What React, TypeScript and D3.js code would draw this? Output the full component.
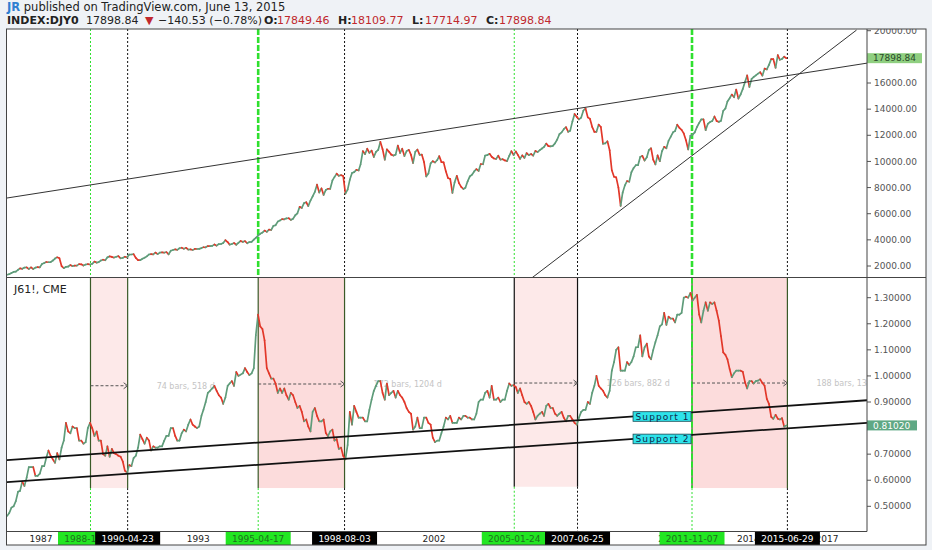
import React from 'react';
import * as d3 from 'd3';

// ---------------- data ----------------
// monthly closes starting Sep 1985
const seriesStartYear = 1985;
const seriesStartMonth = 8;

const dowCloses = [
  1328, 1374, 1472, 1547,
  1571, 1709, 1819, 1784, 1877, 1893, 1775, 1898, 1768, 1878, 1914, 1896,
  2158, 2224, 2305, 2286, 2292, 2419, 2572, 2663, 2596, 1994, 1834, 1939,
  1958, 2072, 1988, 2032, 2031, 2142, 2129, 2032, 2113, 2149, 2115, 2169,
  2342, 2259, 2294, 2419, 2480, 2440, 2661, 2737, 2693, 2645, 2706, 2753,
  2591, 2627, 2707, 2657, 2877, 2881, 2905, 2614, 2453, 2442, 2560, 2634,
  2736, 2882, 2914, 2888, 3028, 2907, 3025, 3044, 3017, 3069, 2895, 3169,
  3224, 3268, 3236, 3359, 3397, 3319, 3394, 3257, 3272, 3226, 3305, 3301,
  3310, 3371, 3435, 3428, 3527, 3516, 3540, 3651, 3555, 3681, 3684, 3754,
  3978, 3832, 3636, 3682, 3758, 3625, 3765, 3913, 3843, 3908, 3739, 3834,
  3844, 4011, 4158, 4321, 4465, 4556, 4709, 4611, 4789, 4756, 5075, 5117,
  5395, 5486, 5588, 5569, 5643, 5655, 5529, 5616, 5882, 6029, 6522, 6448,
  6813, 6878, 6584, 7009, 7331, 7673, 8223, 7622, 7945, 7442, 7823, 7908,
  7907, 8546, 8800, 9063, 8900, 8952, 8883, 7539, 7843, 8592, 9117, 9181,
  9359, 9307, 9786, 10789, 10560, 10971, 10655, 10829, 10337, 10729, 10878, 11497,
  10941, 10128, 10922, 10734, 10522, 10448, 10522, 11215, 10651, 10971, 10415, 10787,
  10887, 10495, 9879, 10735, 10912, 10502, 10523, 9950, 8848, 9075, 9852, 10021,
  9920, 10106, 10404, 9946, 9925, 9243, 8737, 8663, 7592, 8397, 8896, 8342,
  8054, 7891, 7992, 8480, 8850, 8985, 9234, 9416, 9275, 9801, 9782, 10454,
  10488, 10584, 10358, 10226, 10188, 10435, 10140, 10174, 10080, 10027, 10428, 10783,
  10490, 10766, 10504, 10193, 10467, 10275, 10641, 10482, 10569, 10440, 10806, 10718,
  10865, 10993, 11109, 11367, 11168, 11150, 11186, 11381, 11679, 12081, 12222, 12463,
  12622, 12269, 12354, 13063, 13628, 13409, 13212, 13358, 13896, 14050, 13372, 13265,
  12650, 12266, 12263, 12820, 12638, 11350, 11378, 11544, 10851, 9325, 8829, 8776,
  8001, 6600, 7609, 8168, 8500, 8447, 9172, 9496, 9712, 9713, 10345, 10428,
  10067, 10325, 10857, 11009, 10137, 9774, 10466, 10015, 10788, 11118, 11006, 11578,
  11892, 12226, 12320, 12811, 12570, 12414, 12143, 11614, 10913, 11955, 12046, 12218,
  12633, 12952, 13212, 13214, 12393, 12880, 13009, 13091, 13437, 13096, 13026, 13104,
  13861, 14054, 14579, 14840, 15116, 14910, 15500, 14810, 15130, 15546, 16086, 16577,
  15699, 16322, 16458, 16581, 16717, 16827, 16563, 17098, 17043, 17391, 17828, 17823,
  17165, 18133, 17776, 17841, 18011, 17899,
];

const yenCloses = [
  0.463, 0.474, 0.495, 0.500,
  0.520, 0.556, 0.559, 0.595, 0.578, 0.610, 0.650, 0.650, 0.650, 0.617, 0.617, 0.625,
  0.654, 0.654, 0.685, 0.714, 0.694, 0.680, 0.667, 0.704, 0.680, 0.725, 0.752, 0.820,
  0.787, 0.780, 0.806, 0.800, 0.800, 0.752, 0.752, 0.740, 0.746, 0.800, 0.820, 0.800,
  0.770, 0.787, 0.752, 0.752, 0.700, 0.694, 0.730, 0.690, 0.720, 0.704, 0.700, 0.694,
  0.690, 0.671, 0.637, 0.629, 0.658, 0.654, 0.685, 0.694, 0.725, 0.775, 0.758, 0.740,
  0.763, 0.752, 0.714, 0.730, 0.725, 0.725, 0.730, 0.730, 0.752, 0.770, 0.770, 0.800,
  0.800, 0.770, 0.752, 0.752, 0.780, 0.794, 0.787, 0.813, 0.833, 0.813, 0.806, 0.800,
  0.806, 0.847, 0.870, 0.900, 0.935, 0.943, 0.952, 0.962, 0.943, 0.926, 0.917, 0.893,
  0.917, 0.962, 0.971, 0.980, 0.962, 1.015, 1.000, 1.005, 1.010, 1.030, 1.015, 1.003,
  1.010, 1.030, 1.156, 1.235, 1.190, 1.180, 1.136, 1.030, 1.010, 0.990, 0.990, 0.971,
  0.935, 0.952, 0.935, 0.952, 0.926, 0.909, 0.935, 0.926, 0.900, 0.877, 0.885, 0.862,
  0.826, 0.833, 0.806, 0.787, 0.862, 0.877, 0.847, 0.826, 0.826, 0.833, 0.781, 0.769,
  0.787, 0.794, 0.752, 0.758, 0.720, 0.725, 0.694, 0.680, 0.735, 0.862, 0.813, 0.885,
  0.862, 0.840, 0.840, 0.840, 0.826, 0.826, 0.870, 0.909, 0.943, 0.962, 0.980, 0.980,
  0.935, 0.909, 0.971, 0.926, 0.935, 0.943, 0.917, 0.943, 0.926, 0.917, 0.900, 0.877,
  0.862, 0.855, 0.794, 0.806, 0.840, 0.800, 0.800, 0.840, 0.840, 0.820, 0.813, 0.763,
  0.746, 0.752, 0.752, 0.781, 0.806, 0.840, 0.833, 0.847, 0.820, 0.820, 0.820, 0.840,
  0.833, 0.847, 0.847, 0.840, 0.840, 0.833, 0.833, 0.855, 0.900, 0.909, 0.909, 0.935,
  0.943, 0.917, 0.962, 0.909, 0.909, 0.917, 0.900, 0.909, 0.909, 0.943, 0.971, 0.962,
  0.965, 0.957, 0.935, 0.952, 0.926, 0.900, 0.893, 0.900, 0.885, 0.862, 0.833, 0.847,
  0.855, 0.862, 0.847, 0.885, 0.893, 0.877, 0.877, 0.855, 0.847, 0.855, 0.862, 0.840,
  0.826, 0.847, 0.847, 0.833, 0.820, 0.813, 0.840, 0.862, 0.870, 0.870, 0.900, 0.893,
  0.935, 0.962, 1.000, 0.962, 0.952, 0.943, 0.926, 0.917, 0.943, 1.020, 1.053, 1.100,
  1.110, 1.020, 1.020, 1.020, 1.053, 1.042, 1.053, 1.075, 1.110, 1.110, 1.156, 1.075,
  1.110, 1.124, 1.075, 1.064, 1.099, 1.130, 1.156, 1.190, 1.198, 1.242, 1.196, 1.227,
  1.220, 1.220, 1.205, 1.235, 1.235, 1.242, 1.300, 1.304, 1.300, 1.318, 1.289, 1.300,
  1.311, 1.235, 1.205, 1.250, 1.282, 1.250, 1.282, 1.276, 1.282, 1.250, 1.212, 1.153,
  1.090, 1.081, 1.064, 1.026, 0.995, 1.010, 1.020, 1.020, 1.020, 1.016, 0.976, 0.952,
  0.980, 0.980, 0.971, 0.980, 0.982, 0.987, 0.973, 0.962, 0.912, 0.893, 0.843, 0.835,
  0.851, 0.836, 0.833, 0.838, 0.806, 0.810,
];

const regionStarts = ['1988-11-21', '1995-04-17', '2005-01-24', '2011-11-07'];
const regionEnds = ['1990-04-23', '1998-08-03', '2007-06-25', '2015-06-29'];
const regionFloors = [0.57, 0.57, 0.575, 0.57];
const rangeLevels = [0.9624, 0.969, 0.9728, 0.9728];
const rangeLabels = ['74 bars, 518 d', '172 bars, 1204 d', '126 bars, 882 d', '188 bars, 1316 d'];

// year labels that remain visible between the date flags
const yearTicks = [1987, 1993, 2002, 2011, 2014, 2017];
const dowTicks = [2000, 4000, 6000, 8000, 10000, 12000, 14000, 16000, 20000];
const yenTicks = [0.5, 0.6, 0.7, 0.9, 1.0, 1.1, 1.2, 1.3];

const dowUpperTrend: [string, number][] = [['1985-09-13', 7200], ['2018-07-13', 17520]];
const dowRisingTrend: [string, number][] = [['2005-09-24', 1080], ['2018-02-17', 20050]];
const supportLines: [string, number][][] = [
  [['1985-08-08', 0.6767], ['2018-08-08', 0.9073]],
  [['1985-08-08', 0.5921], ['2018-08-08', 0.8207]],
];
const supportNames = ['Support 1', 'Support 2'];
const supportLabelDate = '2009-08-07';

const lastDow = 17898.84;
const lastYen = 0.8102;

const headerAuthor = 'JR';
const headerText = ' published on TradingView.com, June 13, 2015';
const symbolName = 'INDEX:DJY0';
const quoteLast = '17898.84';
const quoteChange = '\u2212140.53 (\u22120.78%)';
const ohlcNames = ['O:', 'H:', 'L:', 'C:'];
const ohlcValues = ['17849.46', '18109.77', '17714.97', '17898.84'];
const paneTitle = 'J61!, CME';

// ---------------- layout ----------------
const W = 932, H = 550;
const L = 7, R = 867, TOP = 29, SEP = 277.5, BOT = 531.5, AXB = 545, OUTR = 926;
const FONT = 'DejaVu Sans, Verdana, sans-serif';
const parse = d3.timeParse('%Y-%m-%d');

export default function App() {
  const x = d3.scaleTime().domain([new Date(1987, 0, 1), new Date(2017, 0, 1)]).range([41, 827]);
  const yDow = d3.scaleLinear().domain([2000, 16000]).range([266, 83]);
  const yYen = d3.scaleLinear().domain([0.5, 1.3]).range([506.3, 297.7]);

  const dates = dowCloses.map((_, i) => new Date(seriesStartYear, seriesStartMonth + i, 15));

  const segs = (vals: number[], y: (v: number) => number) =>
    vals.slice(1).map((c, i) => ({
      x1: x(dates[i]), y1: y(vals[i]), x2: x(dates[i + 1]), y2: y(c), up: c >= vals[i],
    }));
  const dowSegs = segs(dowCloses, yDow);
  const yenSegs = segs(yenCloses, yYen);

  const UP = '#5f9c7a', DOWN = '#e2382a';

  const trend = (pts: [string, number][], y: (v: number) => number) =>
    d3.line<[string, number]>().x(p => x(parse(p[0])!)).y(p => y(p[1]))(pts) || '';

  const lerpLine = (pts: [string, number][], d: Date) => {
    const t0 = parse(pts[0][0])!.getTime(), t1 = parse(pts[1][0])!.getTime();
    const f = (d.getTime() - t0) / (t1 - t0);
    return pts[0][1] + f * (pts[1][1] - pts[0][1]);
  };

  const fmtDow = d3.format('.2f');
  const fmtYen = d3.format('.5f');

  const markers = regionStarts.map((s, i) => ({ date: s, start: true, i }))
    .flatMap((m, i) => [m, { date: regionEnds[i], start: false, i }]);

  return (
    <svg width={W} height={H} style={{ position: 'absolute', left: 0, top: 0 }} fontFamily={FONT}>
      <defs>
        <clipPath id="topPane"><rect x={L} y={TOP} width={R - L} height={SEP - TOP} /></clipPath>
        <clipPath id="botPane"><rect x={L} y={SEP} width={R - L} height={BOT - SEP} /></clipPath>
        <clipPath id="axisArea"><rect x={R} y={TOP} width={OUTR - R} height={BOT - TOP} /></clipPath>
        <clipPath id="timeArea"><rect x={L} y={BOT} width={R - L} height={AXB - BOT} /></clipPath>
      </defs>
      <rect x={0} y={0} width={W} height={H} fill="#eff2f6" />
      <rect x={6} y={TOP} width={OUTR - 6} height={AXB - TOP} fill="#ffffff" />

      {/* header */}
      <text x={7} y={10.5} fontSize={11.5} fill="#222">
        <tspan fill="#2f7fd1" fontWeight="bold">{headerAuthor}</tspan>
        <tspan>{headerText}</tspan>
      </text>
      <text y={23.5} fontSize={11} fill="#222">
        <tspan x={7} fontWeight="bold">{symbolName}</tspan>
        <tspan x={86}>{quoteLast}</tspan>
        <tspan x={145} fill="#c0282d">{'\u25BC'}</tspan>
        <tspan x={158}>{quoteChange}</tspan>
        {ohlcNames.map((n, i) => (
          <React.Fragment key={n}>
            <tspan x={264 + i * 74} fontWeight="bold">{n}</tspan>
            <tspan x={277 + i * 74} fill="#c0282d">{ohlcValues[i]}</tspan>
          </React.Fragment>
        ))}
      </text>

      {/* ---------- top pane ---------- */}
      <g clipPath="url(#topPane)">
        {markers.map((m, k) => {
          const xx = x(parse(m.date)!);
          const thick = m.start && m.i % 2 === 1;
          return (
            <line key={k} x1={xx} x2={xx} y1={TOP} y2={SEP}
              stroke={m.start ? '#2fe02f' : '#111'} strokeWidth={thick ? 2.6 : 1}
              strokeDasharray={thick ? '6 2' : '2 2'} />
          );
        })}
        {dowSegs.map((s, i) => (
          <line key={i} x1={s.x1} y1={s.y1} x2={s.x2} y2={s.y2}
            stroke={s.up ? UP : DOWN} strokeWidth={1.7} strokeLinecap="round" />
        ))}
        <path d={trend(dowUpperTrend, yDow)} stroke="#333" strokeWidth={1} fill="none" />
        <path d={trend(dowRisingTrend, yDow)} stroke="#333" strokeWidth={1} fill="none" />
      </g>

      {/* ---------- bottom pane ---------- */}
      <g clipPath="url(#botPane)">
        {regionStarts.map((s, i) => {
          const x0 = x(parse(s)!), x1 = x(parse(regionEnds[i])!);
          const yb = yYen(regionFloors[i]);
          const edge = i === 2 ? '#111' : '#3a5a28';
          return (
            <g key={i}>
              <rect x={x0} y={SEP} width={x1 - x0} height={yb - SEP}
                fill={i % 2 === 0 ? '#fde9e9' : '#fcdcdc'} />
              <line x1={x0} x2={x0} y1={SEP} y2={yb} stroke={edge} strokeWidth={1.2} />
              <line x1={x1} x2={x1} y1={SEP} y2={yb} stroke={edge} strokeWidth={1.2} />
              {i === 3 && (
                <line x1={x0} x2={x0} y1={SEP} y2={yb} stroke="#2fe02f" strokeWidth={2} strokeDasharray="6 2" />
              )}
              <line x1={x0} x2={x0} y1={yb} y2={BOT} stroke="#2fe02f" strokeWidth={1} strokeDasharray="2 2" />
              <line x1={x1} x2={x1} y1={yb} y2={BOT} stroke="#111" strokeWidth={1} strokeDasharray="2 2" />
            </g>
          );
        })}
        {regionStarts.map((s, i) => {
          const x0 = x(parse(s)!), x1 = x(parse(regionEnds[i])!);
          const yy = yYen(rangeLevels[i]);
          return (
            <g key={i}>
              <line x1={x0} x2={x1 - 1} y1={yy} y2={yy} stroke="#555" strokeWidth={1} strokeDasharray="3 2" />
              <path d={`M${x1 - 4},${yy - 3}L${x1},${yy}L${x1 - 4},${yy + 3}`} stroke="#555" fill="none" strokeWidth={1} />
              <text x={x1 + 29} y={yy} dy="0.35em" fontSize={8} fill="#c4c4c4">{rangeLabels[i]}</text>
            </g>
          );
        })}
        {yenSegs.map((s, i) => (
          <line key={i} x1={s.x1} y1={s.y1} x2={s.x2} y2={s.y2}
            stroke={s.up ? UP : DOWN} strokeWidth={1.7} strokeLinecap="round" />
        ))}
        {supportLines.map((pts, i) => (
          <path key={i} d={trend(pts, yYen)} stroke="#111" strokeWidth={1.8} fill="none" />
        ))}
        {supportLines.map((pts, i) => {
          const d = parse(supportLabelDate)!;
          const yy = yYen(lerpLine(pts, d));
          const xx = x(d);
          return (
            <g key={i}>
              <rect x={xx} y={yy - 4.8} width={58} height={9.6} fill="#2ee3ea" stroke="#1b4a55" strokeWidth={0.8} />
              <text x={xx + 2.5} y={yy} dy="0.36em" fontSize={9} fill="#10284a" textLength={53} lengthAdjust="spacing">{supportNames[i]}</text>
            </g>
          );
        })}
        <text x={14} y={293} fontSize={11} fill="#222">{paneTitle}</text>
      </g>

      {/* ---------- right price axes ---------- */}
      <g clipPath="url(#axisArea)">
        {dowTicks.map(t => (
          <g key={t}>
            <line x1={R} x2={R + 4} y1={yDow(t)} y2={yDow(t)} stroke="#555" />
            <text x={874} y={yDow(t)} dy="0.35em" fontSize={9} fill="#555">{fmtDow(t)}</text>
          </g>
        ))}
        <rect x={R} y={yDow(lastDow) - 5} width={55} height={10} fill="#8fcf80" />
        <text x={873} y={yDow(lastDow)} dy="0.35em" fontSize={9} fill="#2a4a2a">{fmtDow(lastDow)}</text>
        {yenTicks.map(t => (
          <g key={t}>
            <line x1={R} x2={R + 4} y1={yYen(t)} y2={yYen(t)} stroke="#555" />
            <text x={874} y={yYen(t)} dy="0.35em" fontSize={9} fill="#555">{fmtYen(t)}</text>
          </g>
        ))}
        <rect x={R} y={yYen(lastYen) - 5} width={50} height={10} fill="#5fa884" />
        <text x={873} y={yYen(lastYen)} dy="0.35em" fontSize={9} fill="#ffffff">{fmtYen(lastYen)}</text>
      </g>

      {/* ---------- time axis ---------- */}
      <g clipPath="url(#timeArea)">
        {yearTicks.map(yr => (
          <text key={yr} x={x(new Date(yr, 0, 1))} y={538.5} dy="0.35em" fontSize={9}
            textAnchor="middle" fill="#222">{yr}</text>
        ))}
        {markers.map((m, k) => {
          const xx = x(parse(m.date)!);
          return (
            <g key={k}>
              <rect x={xx - 32.5} y={BOT} width={65} height={AXB - BOT} fill={m.start ? '#22e622' : '#000'} />
              <text x={xx} y={538.5} dy="0.35em" fontSize={9} textAnchor="middle"
                fill={m.start ? '#1e6e1e' : '#fff'}>{m.date}</text>
            </g>
          );
        })}
      </g>

      {/* frame */}
      <rect x={6.5} y={TOP} width={OUTR - 6.5} height={AXB - TOP} fill="none" stroke="#444" strokeWidth={1} />
      <line x1={6.5} x2={OUTR} y1={SEP} y2={SEP} stroke="#444" />
      <line x1={6.5} x2={R} y1={BOT} y2={BOT} stroke="#444" />
      <line x1={R} x2={R} y1={TOP} y2={BOT} stroke="#444" />
    </svg>
  );
}
